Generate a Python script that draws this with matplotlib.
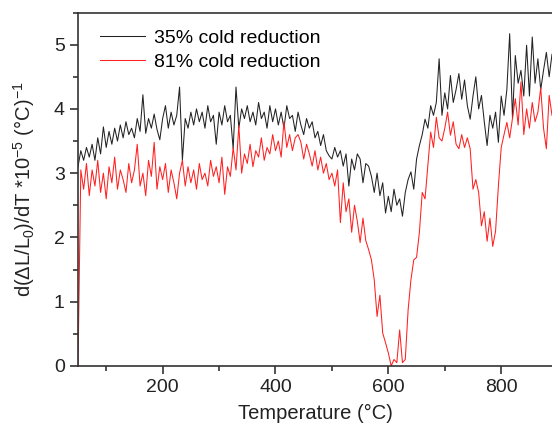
import numpy as np
import matplotlib.pyplot as plt
from matplotlib.ticker import MultipleLocator

plt.rcParams['font.family'] = ['Liberation Sans', 'DejaVu Sans']
plt.rcParams['mathtext.fontset'] = 'custom'
plt.rcParams['mathtext.rm'] = 'Liberation Sans'
plt.rcParams['mathtext.default'] = 'regular'

# temperature grid (deg C), 5 degree steps
temp = list(range(50, 895, 5))

# 35% cold reduction
cr35 = [
    3.10, 3.35, 3.20, 3.40, 3.25, 3.45, 3.20, 3.55, 3.30, 3.72,
    3.40, 3.65, 3.45, 3.70, 3.50, 3.75, 3.55, 3.80, 3.60, 3.70,
    3.55, 3.85, 3.65, 4.22, 3.62, 3.85, 3.70, 3.92, 3.68, 3.52,
    3.85, 4.05, 3.70, 3.95, 3.75, 3.90, 4.34, 3.20, 3.85, 3.70,
    3.95, 3.75, 4.00, 3.80, 3.95, 3.70, 4.05, 3.80, 3.90, 3.45,
    3.95, 3.75, 4.05, 3.80, 3.90, 3.38, 4.34, 3.70, 4.00, 3.85,
    4.05, 3.80, 3.95, 3.75, 4.10, 3.85, 3.95, 3.70, 4.05, 3.80,
    4.00, 3.75, 3.95, 3.70, 4.05, 3.85, 3.90, 3.65, 3.95, 3.75,
    3.60, 3.85, 3.70, 3.80, 3.55, 3.65, 3.43, 3.60, 3.35, 3.27,
    3.22, 3.40, 3.25, 3.35, 3.11, 3.30, 2.80, 3.22, 3.05, 3.30,
    3.22, 2.85, 3.15, 3.11, 2.95, 2.70, 3.00, 2.65, 2.85, 2.38,
    2.64, 2.40, 2.75, 2.50, 2.60, 2.33, 2.70, 2.90, 3.02, 2.75,
    3.22, 3.43, 3.60, 3.84, 3.70, 4.05, 3.90, 4.10, 4.78, 3.90,
    4.25, 4.00, 4.52, 4.10, 4.30, 4.55, 4.15, 4.45, 4.05, 3.84,
    4.20, 4.50, 4.00, 4.21, 3.80, 3.43, 3.90, 3.70, 3.95, 3.48,
    4.20, 3.90, 4.30, 5.17, 3.85, 4.83, 4.40, 4.60, 4.20, 4.99,
    4.20, 5.12, 4.40, 4.78, 4.30, 4.60, 4.88, 4.50, 4.85,
]

# 81% cold reduction
cr81 = [
    0.00, 3.05, 2.75, 3.15, 2.65, 3.05, 2.80, 3.20, 2.70, 3.00,
    2.60, 3.10, 2.85, 3.25, 2.75, 3.05, 2.90, 2.70, 3.15, 2.85,
    3.05, 3.45, 2.80, 3.00, 2.65, 3.20, 2.95, 3.48, 2.75, 3.10,
    2.90, 3.15, 2.70, 3.05, 2.85, 2.60, 3.00, 3.20, 2.80, 3.10,
    2.85, 3.05, 2.75, 3.15, 2.90, 3.00, 2.80, 3.20, 2.95, 3.10,
    2.85, 3.25, 2.67, 3.10, 2.95, 3.40, 3.05, 3.74, 3.00, 3.30,
    3.15, 3.45, 3.10, 3.35, 3.25, 3.55, 3.20, 3.40, 3.30, 3.60,
    3.35, 3.50, 3.25, 3.80, 3.40, 3.60, 3.35, 3.55, 3.60, 3.48,
    3.22, 3.45, 3.30, 3.11, 3.35, 3.05, 3.25, 3.00, 3.15, 2.90,
    3.00, 2.80, 3.05, 2.23, 2.85, 2.40, 2.60, 2.08, 2.50, 2.25,
    1.92, 2.30, 1.95, 1.81, 1.65, 1.34, 0.77, 1.10, 0.51, 0.36,
    0.20, 0.00, 0.10, 0.05, 0.56, 0.05, 0.10, 0.87, 1.34, 1.65,
    1.69, 2.08, 2.70, 2.60, 3.11, 3.64, 3.40, 3.87, 3.55, 3.50,
    3.70, 3.95, 3.59, 3.80, 3.45, 3.38, 3.60, 3.40, 3.55, 3.38,
    2.75, 2.90, 2.70, 2.18, 2.40, 1.94, 2.30, 1.86, 2.10, 2.80,
    3.40, 3.60, 3.79, 3.55, 3.86, 4.16, 3.75, 4.42, 3.60, 4.00,
    3.70, 4.10, 3.80, 3.95, 4.33, 3.70, 3.38, 4.21, 3.90,
]

fig = plt.figure(figsize=(5.52, 4.32), dpi=100)
ax = fig.add_axes([0.1413, 0.153, 0.8587, 0.818])

ax.plot(temp, cr35, color='#222222', lw=0.75, label='35% cold reduction')
ax.plot(temp, cr81, color='#ff2020', lw=0.75, label='81% cold reduction')

ax.set_xlim(50, 890)
ax.set_ylim(0, 5.5)
ax.xaxis.set_major_locator(MultipleLocator(200))
ax.xaxis.set_minor_locator(MultipleLocator(100))
ax.yaxis.set_major_locator(MultipleLocator(1))
ax.yaxis.set_minor_locator(MultipleLocator(0.5))
ax.tick_params(which='major', direction='out', length=6, width=1.1, labelsize=14, colors='#222222')
ax.tick_params(which='minor', direction='out', length=3.5, width=1.1, colors='#222222')
ax.spines['right'].set_visible(False)
for s in ['left', 'bottom', 'top']:
    ax.spines[s].set_linewidth(1.2)
    ax.spines[s].set_color('#333333')

ax.set_xlabel('Temperature (°C)', fontsize=14.5, labelpad=6, color='#222222')
ax.set_ylabel('d(ΔL/L$_0$)/dT *10$^{-5}$ (°C)$^{-1}$', fontsize=14.5, color='#222222')
ax.yaxis.set_label_coords(-0.087, 0.5)

ax.legend(loc='upper left', frameon=False, fontsize=14, handlelength=2.3,
          handletextpad=0.5, borderaxespad=0, bbox_to_anchor=(0.03, 0.975),
          labelspacing=0.35)

fig.savefig('out.png', dpi=100)
